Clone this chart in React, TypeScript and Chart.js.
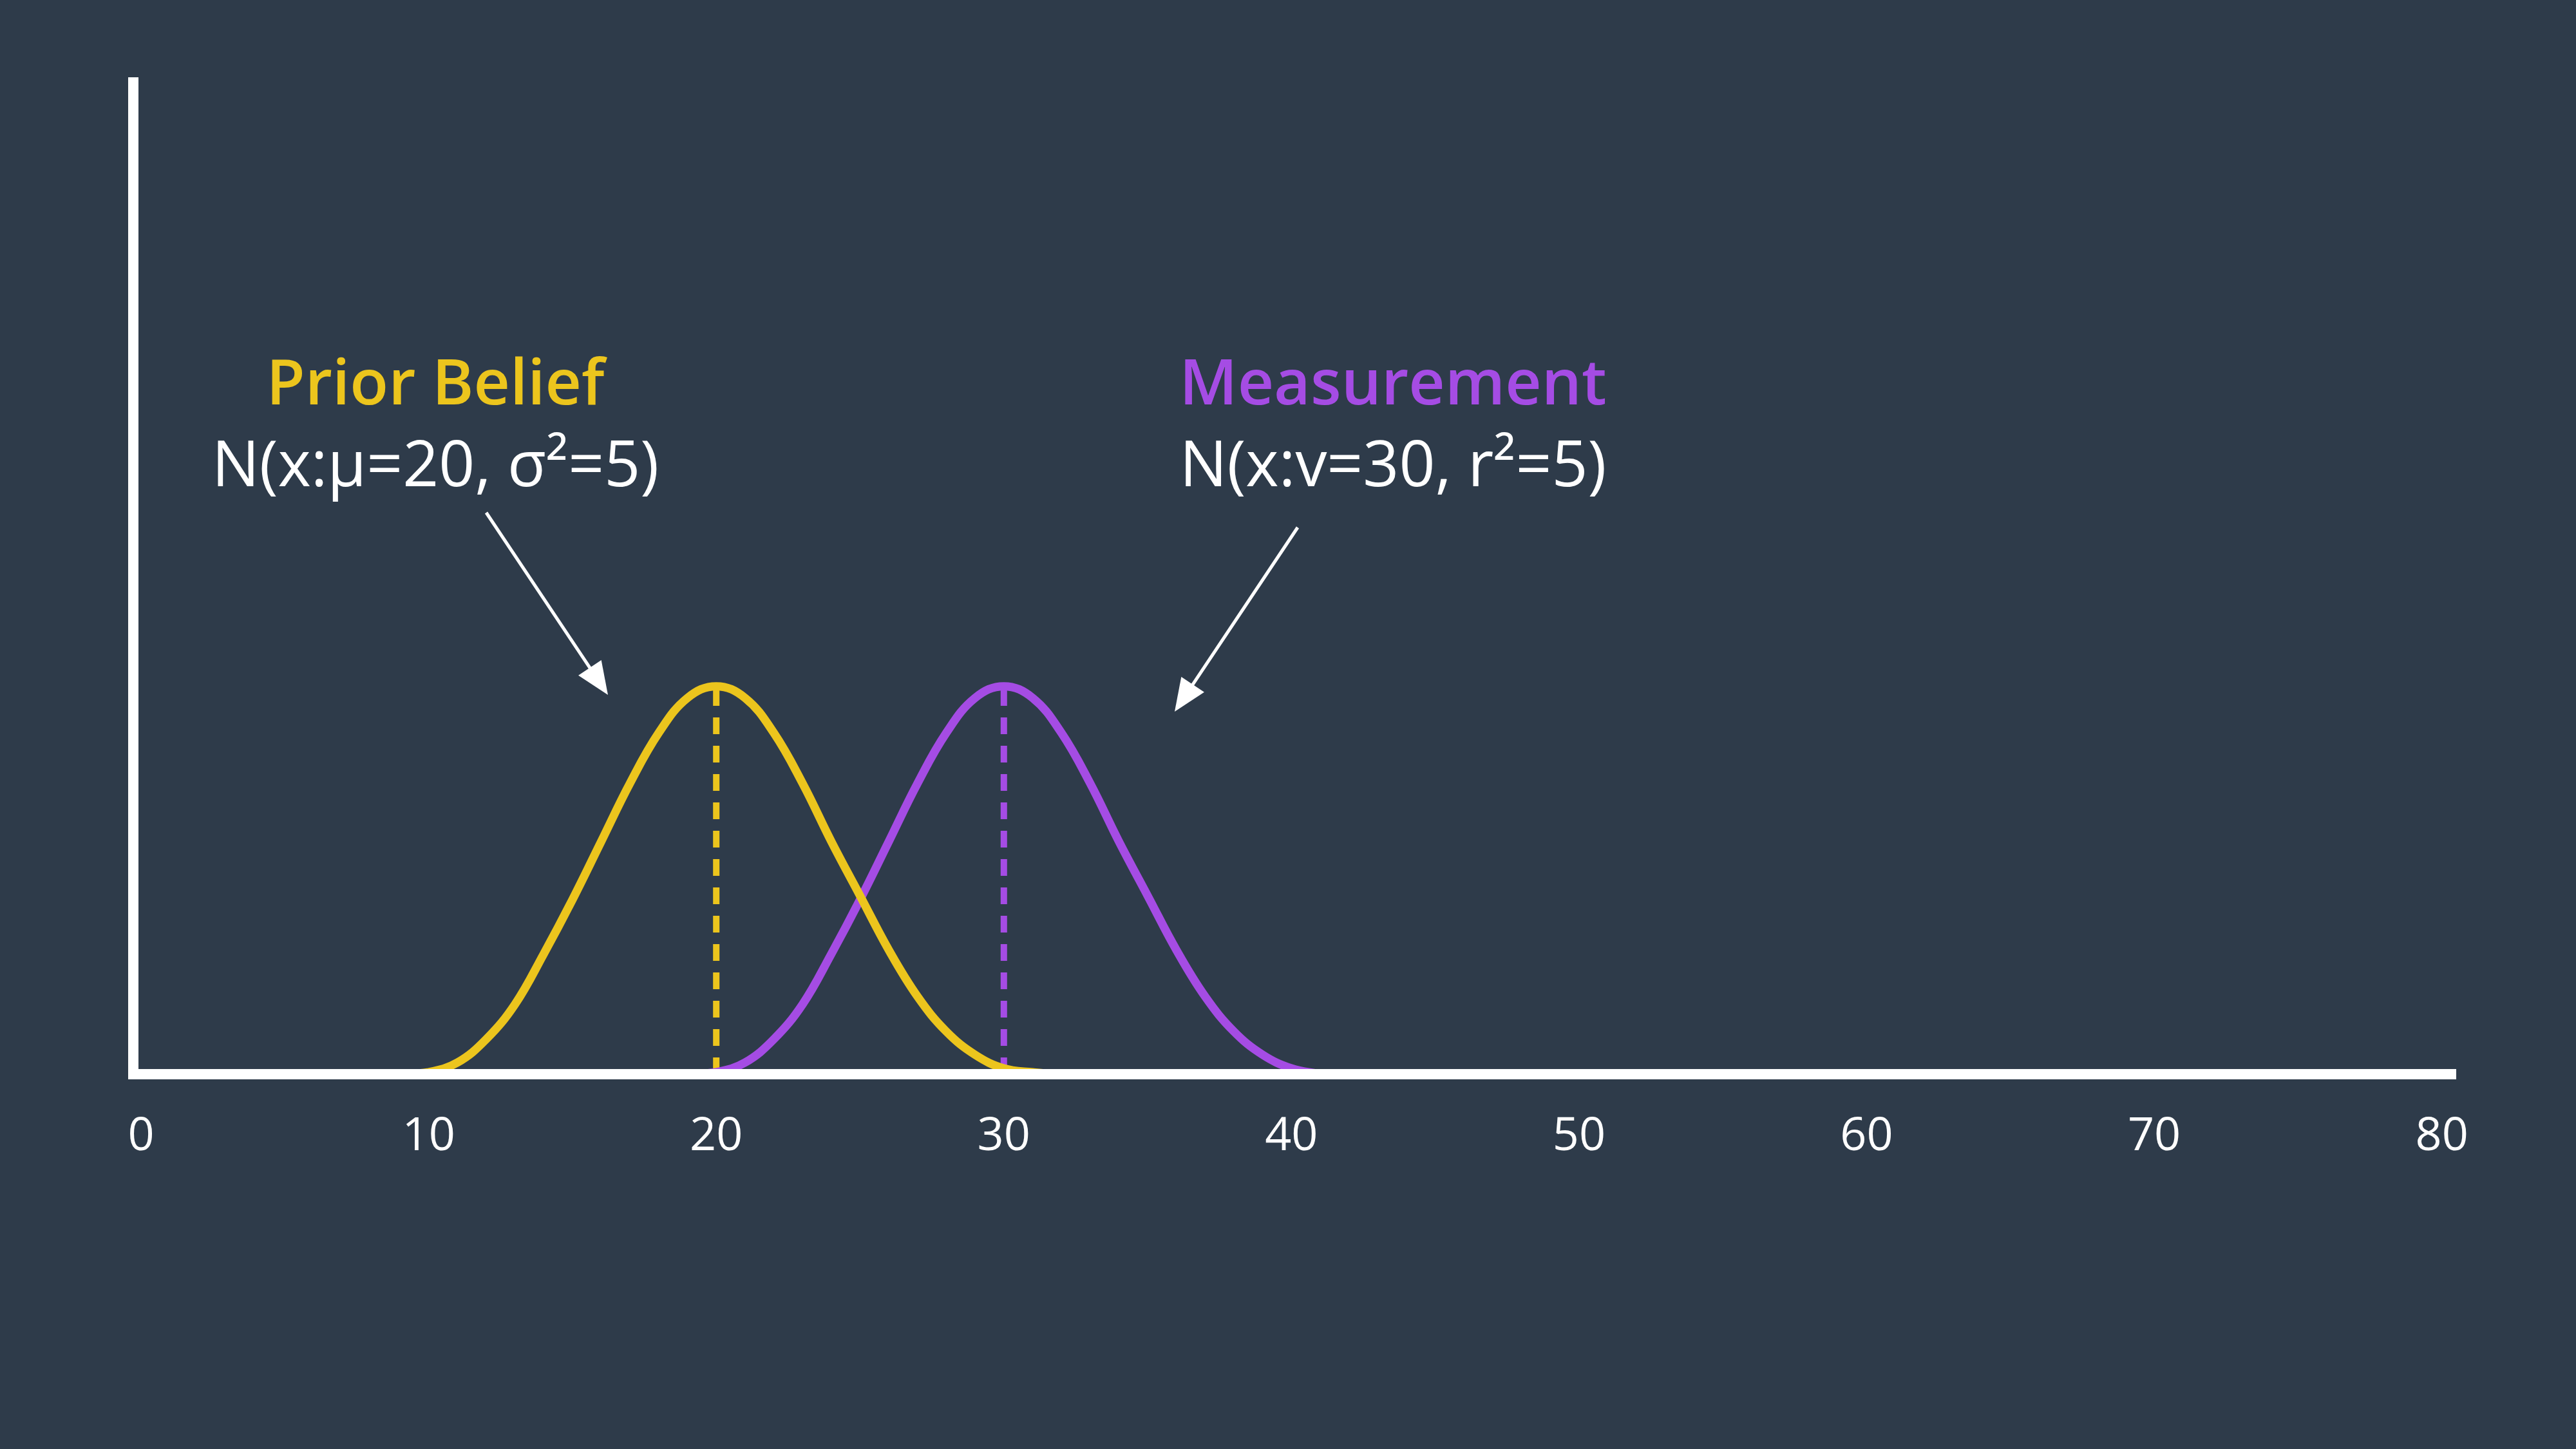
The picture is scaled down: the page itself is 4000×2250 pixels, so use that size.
import React, { useEffect, useRef } from "react";
import Chart from "chart.js/auto";

const BG = "#2e3b4a";
const YELLOW = "#ecc51d";
const PURPLE = "#a54ce4";

const xTicks = [0, 10, 20, 30, 40, 50, 60, 70, 80];

// prior belief curve (peak scaled to 1)
const priorX = [0, 5, 8, 9, 10, 11, 12, 13, 14, 15, 16, 17, 18, 19, 20, 21, 22, 23, 24, 25, 26, 27, 28, 29, 30, 31, 32, 40, 55, 70.6];
const priorY = [0, 0, 0, 0, 0.005, 0.03, 0.09, 0.18, 0.31, 0.45, 0.6, 0.75, 0.88, 0.97, 1, 0.97, 0.88, 0.75, 0.6, 0.46, 0.32, 0.2, 0.11, 0.05, 0.015, 0.005, 0, 0, 0, 0];

// measurement curve
const measX = [19, 20, 21, 22, 23, 24, 25, 26, 27, 28, 29, 30, 31, 32, 33, 34, 35, 36, 37, 38, 39, 40, 41];
const measY = [0, 0.005, 0.03, 0.09, 0.18, 0.31, 0.45, 0.6, 0.75, 0.88, 0.97, 1, 0.97, 0.88, 0.75, 0.6, 0.46, 0.32, 0.2, 0.11, 0.05, 0.015, 0];

const priorMean = 20;
const measMean = 30;

const overlay = {
  id: "overlay",
  afterDraw(chart: any) {
    const { ctx, chartArea } = chart;
    const xs = chart.scales.x;
    ctx.save();
    ctx.strokeStyle = "#ffffff";
    ctx.lineWidth = 16;
    ctx.beginPath();
    ctx.moveTo(chartArea.left, chartArea.top);
    ctx.lineTo(chartArea.left, chartArea.bottom);
    ctx.lineTo(chartArea.right, chartArea.bottom);
    ctx.stroke();

    ctx.fillStyle = "#ffffff";
    ctx.font = "72px 'Open Sans'";
    ctx.textAlign = "center";
    ctx.textBaseline = "middle";
    xTicks.forEach((t) => ctx.fillText(String(t), xs.getPixelForValue(t), 1765));

    const label = (title: string, sub: string, color: string, cx: number) => {
      ctx.font = "600 98px 'Open Sans'";
      ctx.fillStyle = color;
      ctx.fillText(title, cx, 600);
      ctx.font = "98px 'Open Sans'";
      ctx.fillStyle = "#ffffff";
      ctx.fillText(sub, cx, 727);
    };
    label("Prior Belief", "N(x:μ=20, σ²=5)", YELLOW, 676);
    label("Measurement", "N(x:v=30, r²=5)", PURPLE, 2163);

    const arrow = (x1: number, y1: number, x2: number, y2: number) => {
      const a = Math.atan2(y2 - y1, x2 - x1);
      const head = 55;
      ctx.strokeStyle = "#ffffff";
      ctx.fillStyle = "#ffffff";
      ctx.lineWidth = 5;
      ctx.beginPath();
      ctx.moveTo(x1, y1);
      ctx.lineTo(x2 - Math.cos(a) * head * 0.8, y2 - Math.sin(a) * head * 0.8);
      ctx.stroke();
      ctx.beginPath();
      ctx.moveTo(x2, y2);
      ctx.lineTo(x2 - head * Math.cos(a - 0.4), y2 - head * Math.sin(a - 0.4));
      ctx.lineTo(x2 - head * Math.cos(a + 0.4), y2 - head * Math.sin(a + 0.4));
      ctx.closePath();
      ctx.fill();
    };
    arrow(755, 796, 944, 1079);
    arrow(2015, 819, 1824, 1105);
    ctx.restore();
  },
};

export default function App() {
  const canvasRef = useRef<HTMLCanvasElement | null>(null);

  useEffect(() => {
    document.body.style.margin = "0";
    document.body.style.background = BG;
    if (!canvasRef.current) return;
    const chart = new Chart(canvasRef.current, {
      type: "line",
      data: {
        datasets: [
          {
            data: priorX.map((x, i) => ({ x, y: priorY[i] })),
            borderColor: YELLOW,
            borderWidth: 13,
            pointRadius: 0,
            tension: 0.4,
          },
          {
            data: measX.map((x, i) => ({ x, y: measY[i] })),
            borderColor: PURPLE,
            borderWidth: 13,
            pointRadius: 0,
            tension: 0.4,
          },
          {
            data: [{ x: priorMean, y: 0 }, { x: priorMean, y: 1 }],
            borderColor: YELLOW,
            borderWidth: 10,
            borderDash: [26, 18],
            pointRadius: 0,
          },
          {
            data: [{ x: measMean, y: 0 }, { x: measMean, y: 1 }],
            borderColor: PURPLE,
            borderWidth: 10,
            borderDash: [26, 18],
            pointRadius: 0,
          },
        ],
      },
      options: {
        responsive: false,
        animation: false,
        devicePixelRatio: 1,
        layout: { padding: { left: 207, right: 186, top: 120, bottom: 582 } },
        plugins: { legend: { display: false }, tooltip: { enabled: false } },
        scales: {
          x: { type: "linear", min: -0.27, max: 80.5, display: false },
          y: { min: 0, max: 2.57, display: false },
        },
      },
      plugins: [overlay],
    });
    return () => chart.destroy();
  }, []);

  return <canvas ref={canvasRef} width={4000} height={2250} style={{ display: "block", background: BG }} />;
}
